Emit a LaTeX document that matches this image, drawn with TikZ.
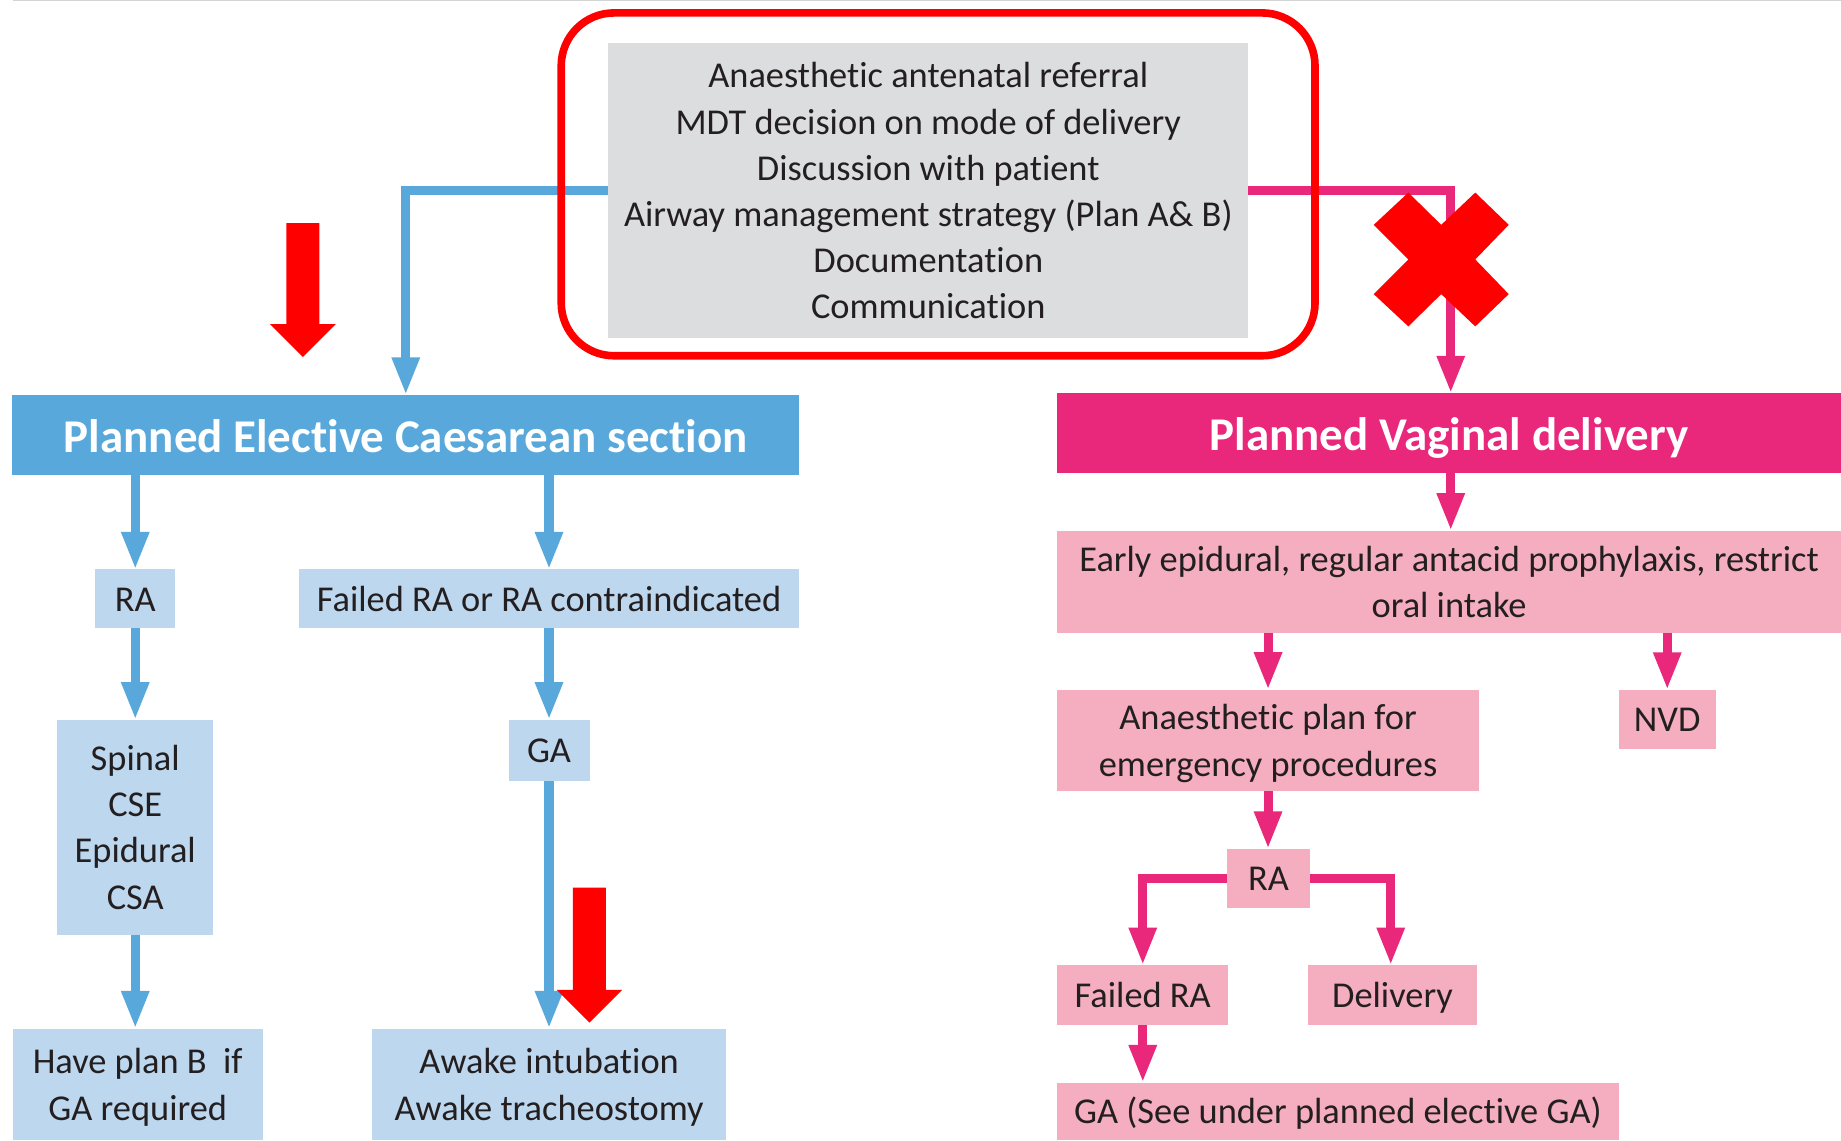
\documentclass[tikz,border=0pt]{standalone}
\usepackage{fontspec}
\setmainfont{Carlito}[Ligatures=NoCommon]
\usetikzlibrary{arrows.meta}
\definecolor{bline}{RGB}{88,168,219}
\definecolor{lblue}{RGB}{189,215,238}
\definecolor{pline}{RGB}{233,39,123}
\definecolor{lpink}{RGB}{244,174,192}
\definecolor{gbox}{RGB}{220,221,222}
\definecolor{txt}{RGB}{35,31,32}
\definecolor{xred}{RGB}{255,0,0}
\definecolor{topgray}{RGB}{212,212,212}
\tikzset{
  box/.style={inner sep=0pt, outer sep=0pt, align=center, text=txt,
    font=\fontsize{31}{39.3}\selectfont, text depth=0pt},
  oneline/.style={text height=20.8pt},
  bbox/.style={box, fill=lblue},
  pbox/.style={box, fill=lpink},
  gbx/.style={box, fill=gbox},
  hdrbox/.style={inner sep=0pt, outer sep=0pt, text=white,
    font=\fontsize{40}{48}\selectfont\bfseries, text height=30pt, text depth=0pt},
  conn/.style={line width=7.7pt, -{Triangle[width=22pt,length=32pt]}},
  bconn/.style={conn, draw=bline},
  pconn/.style={conn, draw=pline},
  redmark/.style={fill=xred, draw=none},
}
\begin{document}
\begin{tikzpicture}[x=1pt,y=-1pt]
\useasboundingbox (0,0) rectangle (1568,971);
\fill[white] (0,0) rectangle (1568,971);
\draw[topgray, line width=1.2pt] (11,0.6) -- (1568,0.6);

% top gray box
\node[gbx, minimum width=544.7pt, minimum height=251.8pt] (gray) at (790.6,162.4)
  {Anaesthetic antenatal referral\\MDT decision on mode of delivery\\Discussion with patient\\Airway management strategy (Plan A\& B)\\Documentation\\Communication};

% blue side
\node[hdrbox, fill=bline, minimum width=670pt, minimum height=68.2pt] (hdrB) at (345.6,370.5) {Planned Elective Caesarean section};
\node[bbox, oneline, minimum width=68.3pt, minimum height=50pt] (raB) at (115.2,510) {RA};
\node[bbox, oneline, minimum width=426.6pt, minimum height=50pt] (failB) at (467.6,510) {Failed RA or RA contraindicated};
\node[bbox, minimum width=133pt, minimum height=183pt] (spinal) at (115.2,704.5) {Spinal\\CSE\\Epidural\\CSA};
\node[bbox, oneline, minimum width=69pt, minimum height=52pt] (gaB) at (467.6,639) {GA};
\node[bbox, minimum width=213.3pt, minimum height=95pt] (planB) at (117.3,923.5) {Have plan B\ \ if\\GA required};
\node[bbox, minimum width=301.5pt, minimum height=95pt] (awake) at (467.7,923.5) {Awake intubation\\Awake tracheostomy};

% pink side
\node[hdrbox, fill=pline, minimum width=668pt, minimum height=68pt] (hdrP) at (1234.2,369) {Planned Vaginal delivery};
\node[pbox, minimum width=668pt, minimum height=87pt] (early) at (1234.2,495.5) {Early epidural, regular antacid prophylaxis, restrict\\oral intake};
\node[pbox, minimum width=360pt, minimum height=86.2pt] (anplan) at (1080,630.6) {Anaesthetic plan for\\emergency procedures};
\node[pbox, oneline, minimum width=82.5pt, minimum height=50.5pt] (nvd) at (1420,612.8) {NVD};
\node[pbox, oneline, minimum width=71pt, minimum height=50pt] (raP) at (1080.5,748) {RA};
\node[pbox, oneline, minimum width=146pt, minimum height=51pt] (failP) at (973.3,847.5) {Failed RA};
\node[pbox, oneline, minimum width=144pt, minimum height=51pt] (deliv) at (1186,847.5) {Delivery};
\node[pbox, oneline, minimum width=479pt, minimum height=49pt] (gaP) at (1139.5,946.5) {GA (See under planned elective GA)};

% connectors
\draw[bconn] (gray.west) -| (hdrB.north);
\draw[pconn] (gray.east) -| ([xshift=1.4pt]hdrP.north);
\draw[bconn] (raB.north |- hdrB.south) -- (raB.north);
\draw[bconn] (failB.north |- hdrB.south) -- (failB.north);
\draw[bconn] (raB.south) -- (raB.south |- spinal.north);
\draw[bconn] (failB.south) -- (gaB.north);
\draw[bconn] (spinal.south) -- (spinal.south |- planB.north);
\draw[bconn] (gaB.south) -- (gaB.south |- awake.north);
\draw[pconn] ([xshift=1.4pt]hdrP.south) -- ([xshift=1.4pt]early.north);
\draw[pconn] (anplan.north |- early.south) -- (anplan.north);
\draw[pconn] (nvd.north |- early.south) -- (nvd.north);
\draw[pconn] (anplan.south) -- (anplan.south |- raP.north);
\draw[pconn] (raP.west) -| (failP.north);
\draw[pconn] (raP.east) -| ([xshift=-1.5pt]deliv.north);
\draw[pconn] (failP.south) -- (failP.south |- gaP.north);

% red frame
\node[draw=xred, line width=6.5pt, rounded corners=45pt, minimum width=642pt, minimum height=292pt, inner sep=0pt] (frame) at (799,157) {};

% red cross
\fill[redmark] (1199.5,164) -- (1227.5,191.5) -- (1256.5,164) -- (1285,191.5) -- (1256.5,221) -- (1285,250.5) -- (1256.5,278) -- (1227.5,250.5) -- (1199.5,278) -- (1170,250.5) -- (1199.5,221) -- (1170,191.5) -- cycle;

% red block arrows
\fill[redmark] (244,190) -- (272,190) -- (272,276) -- (286,276) -- (258,304) -- (230,276) -- (244,276) -- cycle;
\fill[redmark] (488,756) -- (516,756) -- (516,843) -- (530,843) -- (502,871) -- (474,843) -- (488,843) -- cycle;
\end{tikzpicture}
\end{document}
